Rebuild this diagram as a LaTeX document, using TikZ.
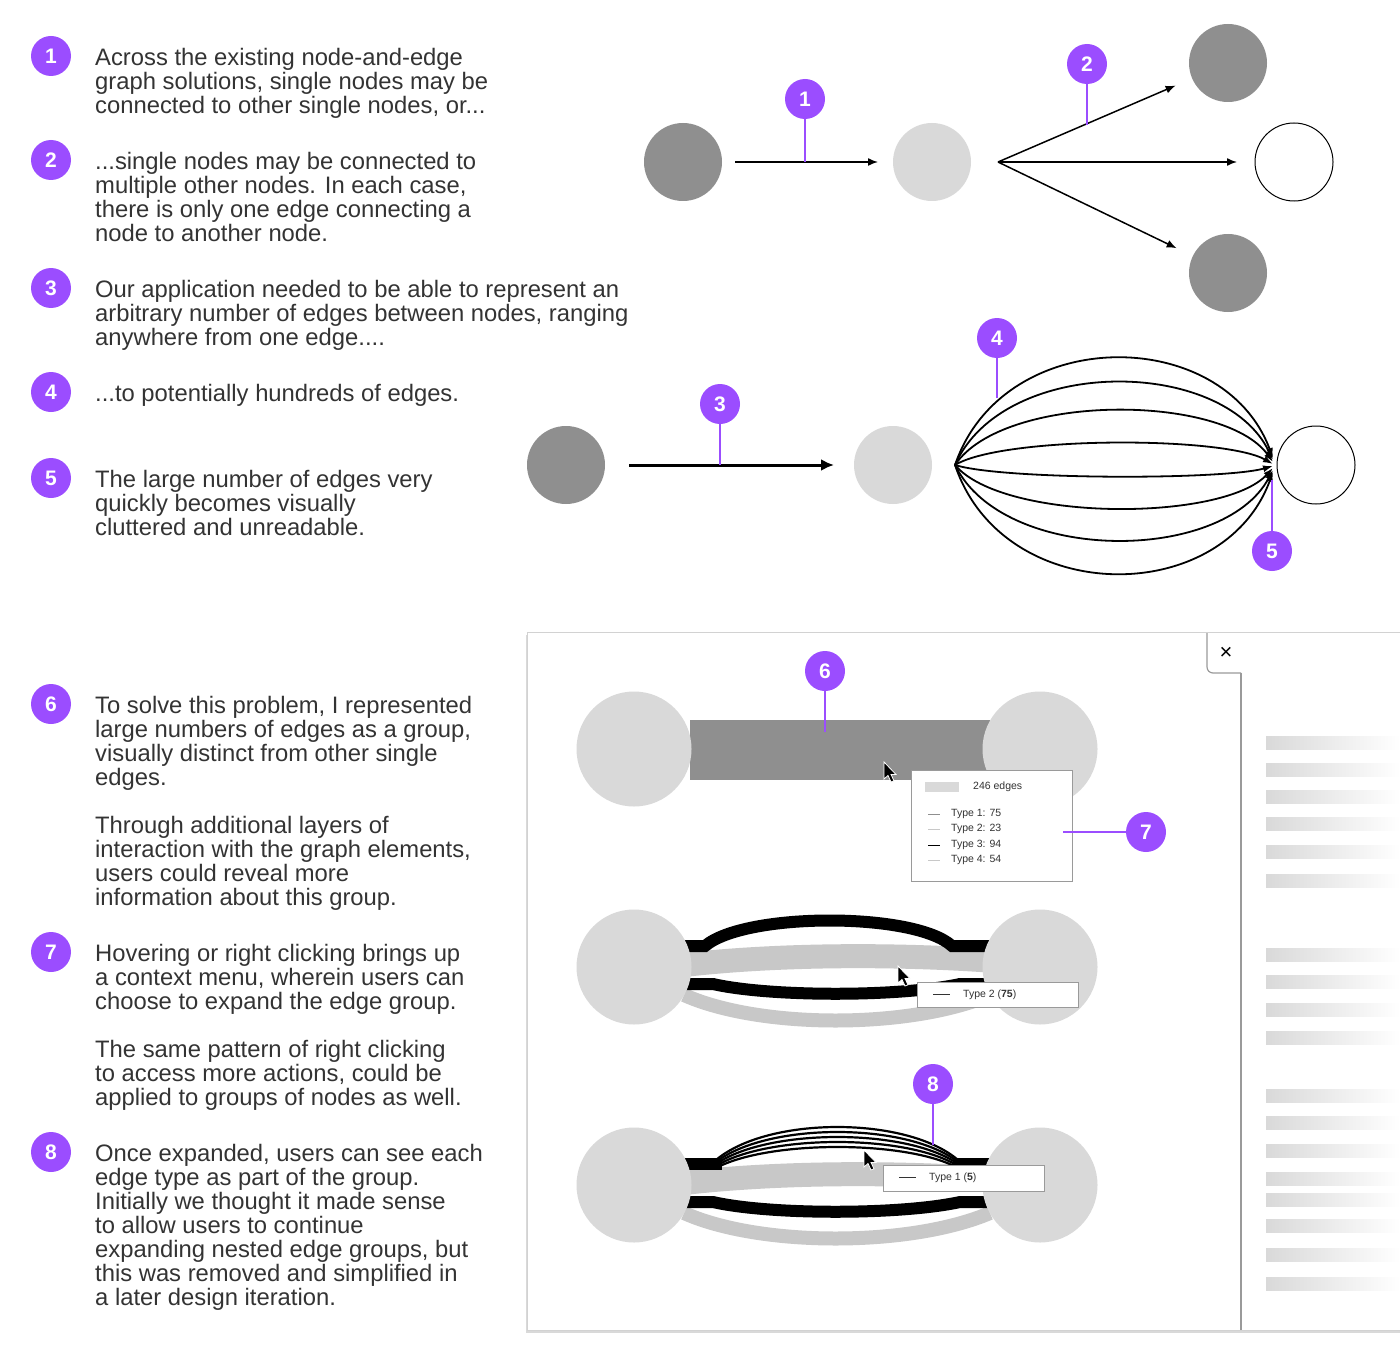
\documentclass[tikz,border=0pt]{standalone}
\usepackage{fontspec}
\setmainfont{Liberation Sans}
\usetikzlibrary{arrows.meta,shadows}

\definecolor{purp}{HTML}{9B4DFF}
\definecolor{darknode}{HTML}{8F8F8F}
\definecolor{lightnode}{HTML}{D9D9D9}
\definecolor{band}{HTML}{C8C8C8}
\definecolor{txt}{HTML}{333333}
\definecolor{frame}{HTML}{9A9A9A}

\tikzset{
  badge/.style={circle, fill=purp, text=white, minimum size=40pt, inner sep=0pt,
    font=\fontsize{21}{21}\selectfont\bfseries},
  callout/.style={draw=purp, line width=1.5pt},
  note/.style={anchor=north west, align=left, inner sep=0pt, text=txt,
    font=\fontsize{23.8}{24}\selectfont, execute at begin node=\strut},
  gnode/.style={circle, minimum size=78pt, inner sep=0pt, outer sep=0pt},
  bignode/.style={circle, fill=lightnode, minimum size=115pt, inner sep=0pt},
  tiptext/.style={anchor=west, inner sep=0pt, text=txt, font=\fontsize{10.5}{12}\selectfont},
  tipbox/.style={draw=frame, fill=white, line width=0.8pt},
  cursor/.pic={
    \filldraw[fill=black, draw=white, line width=0.8pt]
      (0,0) -- (0,17) -- (4,13.5) -- (7,20) -- (10,18.8) -- (7,12.5) -- (12,12.5) -- cycle;
  }
}

\begin{document}
\begin{tikzpicture}[x=1pt,y=-1pt]
\useasboundingbox (0,0) rectangle (1400,1367);

% left column
\node[badge] (b1) at (51,56) {1};
\node[note] (t1) at (95,47.7) {Across the existing node-and-edge\\graph solutions, single nodes may be\\connected to other single nodes, or...};
\node[badge] (b2) at (51,160) {2};
\node[note] (t2) at (95,151.7) {...single nodes may be connected to\\multiple other nodes. In each case,\\there is only one edge connecting a\\node to another node.};
\node[badge] (b3) at (51,288) {3};
\node[note] (t3) at (95,279.7) {Our application needed to be able to represent an\\arbitrary number of edges between nodes, ranging\\anywhere from one edge....};
\node[badge] (b4) at (51,392) {4};
\node[note] (t4) at (95,383.7) {...to potentially hundreds of edges.};
\node[badge] (b5) at (51,478) {5};
\node[note] (t5) at (95,469.7) {The large number of edges very\\quickly becomes visually\\cluttered and unreadable.};
\node[badge] (b6) at (51,704) {6};
\node[note] (t6) at (95,695.7) {To solve this problem, I represented\\large numbers of edges as a group,\\visually distinct from other single\\edges.\\[24pt]Through additional layers of\\interaction with the graph elements,\\users could reveal more\\information about this group.};
\node[badge] (b7) at (51,952) {7};
\node[note] (t7) at (95,943.7) {Hovering or right clicking brings up\\a context menu, wherein users can\\choose to expand the edge group.\\[24pt]The same pattern of right clicking\\to access more actions, could be\\applied to groups of nodes as well.};
\node[badge] (b8) at (51,1152) {8};
\node[note] (t8) at (95,1143.7) {Once expanded, users can see each\\edge type as part of the group.\\Initially we thought it made sense\\to allow users to continue\\expanding nested edge groups, but\\this was removed and simplified in\\a later design iteration.};

% one node to one or many nodes
\node[gnode, fill=darknode] (src) at (683,162) {};
\node[gnode, fill=lightnode] (mid) at (932,162) {};
\node[gnode, fill=darknode] (up) at (1228,63) {};
\node[gnode, draw=black, line width=1pt] (right) at (1294,162) {};
\node[gnode, fill=darknode] (down) at (1228,273) {};
\coordinate (fan) at (998,162);
\begin{scope}[line width=1.5pt, -{Latex[length=10pt,width=8pt]}]
  \draw[shorten <=13pt, shorten >=15pt] (src) -- (mid);
  \draw[shorten >=18pt] (fan) -- (up);
  \draw[shorten >=18pt] (fan) -- (right);
  \draw[shorten >=18pt] (fan) -- (down);
\end{scope}
\node[badge] (c1) at (805,99) {1};
\coordinate (c1e) at (805,162);
\draw[callout] (c1) -- (c1e);
\node[badge] (c2) at (1087,64) {2};
\coordinate (c2e) at (1087,125);
\draw[callout] (c2) -- (c2e);

% one edge against many edges
\node[gnode, fill=darknode] (one) at (566,465) {};
\node[gnode, fill=lightnode] (two) at (893,465) {};
\node[gnode, draw=black, line width=1pt] (many) at (1316,465) {};
\draw[line width=3pt, -{Latex[length=13pt,width=12pt]}, shorten <=24pt, shorten >=20pt] (one) -- (two);
\coordinate (spread) at (955,465);
\foreach \h/\e in {-141/-7,-109/-5,-72/-3,-29/-1,15/1,57/3,99/5,143/7}
  \draw[line width=1.8pt, -{Latex[length=10pt,width=7pt]}]
    (spread) .. controls (1003,465+\h) and (1223,465+\h) .. (1273,465+\e);
\node[badge] (c3) at (720,404) {3};
\coordinate (c3e) at (720,465);
\draw[callout] (c3) -- (c3e);
\node[badge] (c4) at (997,338) {4};
\coordinate (c4e) at (997,398);
\draw[callout] (c4) -- (c4e);
\node[badge] (c5) at (1272,551) {5};
\coordinate (c5e) at (1272,480);
\draw[callout] (c5) -- (c5e);

% panel
\fill[white, drop shadow={shadow xshift=-1.5pt, shadow yshift=-2.5pt, opacity=0.3}] (527,632) rectangle (1430,1330);
\draw[gray!35, line width=0.8pt] (1430,632) -- (527,632) -- (527,1330) -- (1430,1330);
\draw[frame, line width=1.2pt, rounded corners=6pt] (1207,633) -- (1207,673) -- (1241,673);
\draw[frame, line width=1.2pt] (1241,673) -- (1241,1330);
\node[text=black, font=\fontsize{22}{22}\selectfont, inner sep=0pt] (close) at (1226,653) {×};
\foreach \y in {743,770,797,824,852,881,955,982,1010,1038,1096,1123,1151,1179,1200,1226,1255,1284}
  \shade[left color=lightnode, middle color=lightnode!85, right color=white] (1266,\y-6.5) rectangle (1400,\y+6.5);

% grouped edge
\fill[darknode] (690,720) rectangle (990,780);
\node[bignode] (g1a) at (634,749) {};
\node[bignode] (g1b) at (1040,749) {};
\node[badge] (c6) at (825,671) {6};
\coordinate (c6e) at (825,732);
\draw[callout] (c6) -- (c6e);
\pic at (884,762) {cursor};
\draw[tipbox] (911,770) rectangle (1072,881);
\fill[lightnode] (925,782) rectangle (959,792);
\node[tiptext] (cnt) at (973,787) {246 edges};
\foreach \y/\c/\t in {814/darknode/Type 1: 75, 829/band/Type 2: 23, 845/black/Type 3: 94, 860/band/Type 4: 54} {
  \draw[\c, line width=1pt] (928,\y) -- (940,\y);
  \node[tiptext] at (951,\y) {\t};
}
\node[badge] (c7) at (1146,832) {7};
\coordinate (c7e) at (1063,832);
\draw[callout] (c7) -- (c7e);

% expanded group
\begin{scope}[shift={(0,967)}]
  \draw[band, line width=14pt] (684,28) .. controls (760,62) and (910,62) .. (990,28);
  \draw[band, line width=24pt] (684,-2) .. controls (780,-13) and (900,-13) .. (995,-6);
  \draw[black, line width=12pt] (684,17) -- (713,17) .. controls (770,30) and (900,30) .. (960,17) -- (990,17);
  \draw[black, line width=12pt] (684,-21) -- (705,-21) .. controls (745,-55) and (915,-55) .. (952,-21) -- (990,-21);
\end{scope}
\node[bignode] (g2a) at (634,967) {};
\node[bignode] (g2b) at (1040,967) {};
\pic at (898,966) {cursor};
\draw[tipbox] (917,982) rectangle (1078,1007);
\draw[txt, line width=1.5pt] (933,994.5) -- (950,994.5);
\node[tiptext] (tp2) at (963,994.5) {Type 2 (\textbf{75})};

% expanded type
\begin{scope}[shift={(0,1185)}]
  \draw[band, line width=14pt] (684,28) .. controls (760,62) and (910,62) .. (990,28);
  \draw[band, line width=24pt] (684,-2) .. controls (780,-13) and (900,-13) .. (995,-6);
  \draw[black, line width=12pt] (684,17) -- (713,17) .. controls (770,30) and (900,30) .. (960,17) -- (990,17);
  \draw[black, line width=12pt] (684,-21) -- (722,-21);
  \draw[black, line width=12pt] (953,-21) -- (990,-21);
  \foreach \s/\c in {-25/-69,-23/-63,-21/-57,-19/-51,-17/-45}
    \draw[black, line width=2.2pt] (716,\s) .. controls (768,\c) and (907,\c) .. (958,\s);
\end{scope}
\node[bignode] (g3a) at (634,1185) {};
\node[bignode] (g3b) at (1040,1185) {};
\node[badge] (c8) at (933,1084) {8};
\coordinate (c8e) at (933,1145);
\draw[callout] (c8) -- (c8e);
\pic at (864,1150) {cursor};
\draw[tipbox] (883,1165) rectangle (1044,1191);
\draw[txt, line width=1.5pt] (899,1177.5) -- (916,1177.5);
\node[tiptext] (tp3) at (929,1177.5) {Type 1 (\textbf{5})};
\end{tikzpicture}
\end{document}
